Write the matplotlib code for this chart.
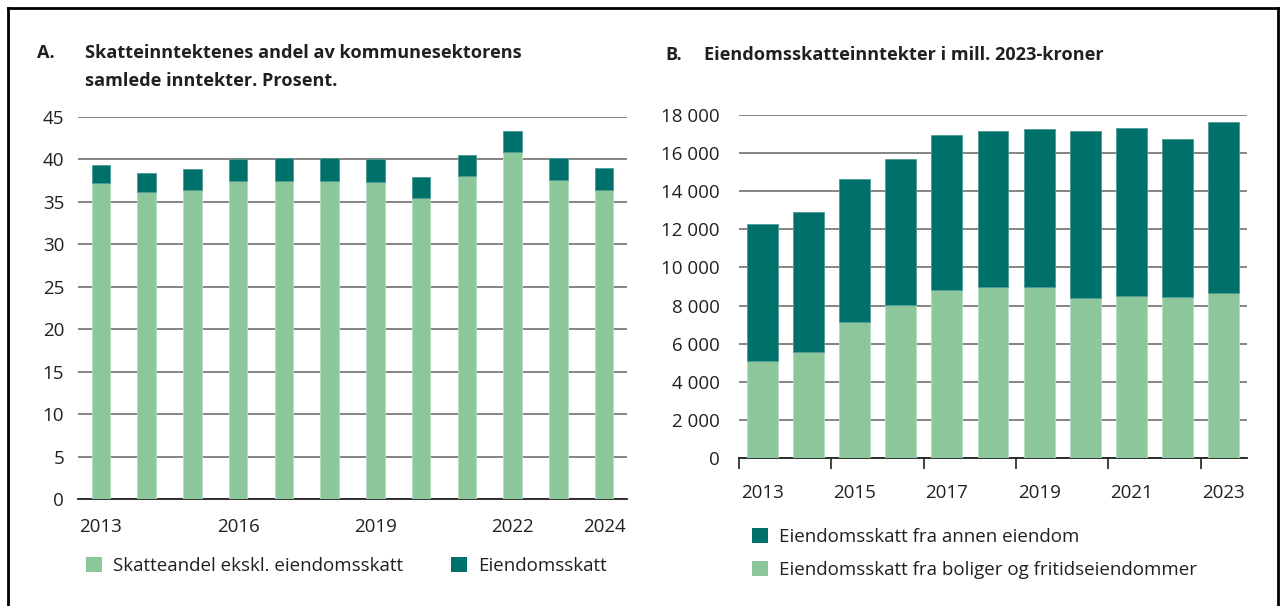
import matplotlib
matplotlib.use("Agg")
import matplotlib.pyplot as plt
from matplotlib.patches import Patch
from matplotlib.lines import Line2D

plt.rcParams['font.family'] = ['Open Sans', 'DejaVu Sans']

# ---- Data panel A ----
years_a = [2013, 2014, 2015, 2016, 2017, 2018, 2019, 2020, 2021, 2022, 2023, 2024]
skatteandel = [37.2, 36.2, 36.4, 37.5, 37.5, 37.5, 37.4, 35.4, 38.1, 40.9, 37.6, 36.4]
eiendomsskatt = [2.1, 2.2, 2.45, 2.6, 2.7, 2.7, 2.7, 2.55, 2.45, 2.5, 2.6, 2.6]
xlabels_a = ['2013', '', '', '2016', '', '', '2019', '', '', '2022', '', '2024']

# ---- Data panel B ----
years_b = [2013, 2014, 2015, 2016, 2017, 2018, 2019, 2020, 2021, 2022, 2023]
boliger = [5100, 5550, 7120, 8050, 8800, 9000, 9000, 8400, 8500, 8450, 8650]
annen = [7180, 7340, 7520, 7630, 8150, 8180, 8270, 8780, 8820, 8310, 8970]
xlabels_b = ['2013', '2015', '2017', '2019', '2021', '2023']

LIGHT = '#8BC79A'
DARK = '#00706A'
GRID = '#6f6f6f'
TXT = '#231f20'
FS = 13.5
TFS = 13.1

W, H = 1282, 606
fig = plt.figure(figsize=(W / 100, H / 100), dpi=100)

def px_axes(l, r, b, t):
    return fig.add_axes([l / W, (H - b) / H, (r - l) / W, (b - t) / H])

# border
for xs, ys in [([8, 8], [0, 598]), ([8, 1278], [598, 598]), ([1278, 1278], [0, 598])]:
    fig.add_artist(Line2D([x / W for x in xs], [y / H for y in ys], color='black', lw=2))

# ---- Panel A ----
ax1 = px_axes(78, 627, 499, 117)
xa = list(range(len(years_a)))
ax1.bar(xa, skatteandel, width=0.4, color=LIGHT, zorder=3, edgecolor='#b8ddc2', linewidth=0.6)
ax1.bar(xa, eiendomsskatt, width=0.4, bottom=skatteandel, color=DARK, zorder=3,
        edgecolor='#4f9a94', linewidth=0.6)
ax1.set_xlim(-0.5, len(years_a) - 0.5)
ax1.set_ylim(0, 45)
ax1.set_yticks(range(0, 46, 5))
ax1.yaxis.grid(True, color=GRID, lw=1.2, zorder=0)
ax1.set_axisbelow(True)
ax1.set_xticks(xa)
ax1.set_xticklabels(xlabels_a)
ax1.tick_params(axis='x', length=0, pad=14, labelsize=FS, labelcolor=TXT)
ax1.tick_params(axis='y', length=0, pad=10, labelsize=FS, labelcolor=TXT)
for s in ['top', 'right', 'left']:
    ax1.spines[s].set_visible(False)
ax1.spines['bottom'].set_color('#222222')
ax1.spines['bottom'].set_linewidth(1.3)

fig.text(37 / W, 1 - 58 / H, 'A.', fontsize=TFS, fontweight='bold', color=TXT, va='baseline')
fig.text(85 / W, 1 - 58 / H, 'Skatteinntektenes andel av kommunesektorens',
         fontsize=TFS, fontweight='bold', color=TXT, va='baseline')
fig.text(85 / W, 1 - 86 / H, 'samlede inntekter. Prosent.',
         fontsize=TFS, fontweight='bold', color=TXT, va='baseline')

h1 = [Patch(facecolor=LIGHT, edgecolor='none'), Patch(facecolor=DARK, edgecolor='none')]
fig.legend(h1, ['Skatteandel ekskl. eiendomsskatt', 'Eiendomsskatt'],
           loc='center left', bbox_to_anchor=(69 / W, 1 - 566 / H), ncol=2, frameon=False,
           fontsize=FS, handlelength=0.85, handleheight=0.85, handletextpad=0.6, columnspacing=2.55,
           labelcolor=TXT)

# ---- Panel B ----
ax2 = px_axes(739, 1247, 458, 115)
xb = list(range(len(years_b)))
ax2.bar(xb, boliger, width=0.67, color=LIGHT, zorder=3, edgecolor='#b8ddc2', linewidth=0.6)
ax2.bar(xb, annen, width=0.67, bottom=boliger, color=DARK, zorder=3,
        edgecolor='#4f9a94', linewidth=0.6)
ax2.set_xlim(-0.5, len(years_b) - 0.5)
ax2.set_ylim(0, 18000)
yt = list(range(0, 18001, 2000))
ax2.set_yticks(yt)
ax2.set_yticklabels([f'{v:,}'.replace(',', ' ') for v in yt])
ax2.yaxis.grid(True, color=GRID, lw=1.2, zorder=0)
ax2.set_axisbelow(True)
ax2.set_xticks([i - 0.5 for i in range(0, len(years_b), 2)])
ax2.set_xticklabels([])
ax2.set_xticks(list(range(0, len(years_b), 2)), minor=True)
ax2.set_xticklabels(xlabels_b, minor=True)
ax2.tick_params(axis='x', which='major', length=8, width=1.2, color='#222222')
ax2.tick_params(axis='x', which='minor', length=0, pad=19, labelsize=FS, labelcolor=TXT)
ax2.tick_params(axis='y', length=0, pad=14, labelsize=FS, labelcolor=TXT)
for s in ['top', 'right', 'left']:
    ax2.spines[s].set_visible(False)
ax2.spines['bottom'].set_color('#222222')
ax2.spines['bottom'].set_linewidth(1.3)

fig.text(665 / W, 1 - 60 / H, 'B.', fontsize=TFS, fontweight='bold', color=TXT, va='baseline')
fig.text(704 / W, 1 - 60 / H, 'Eiendomsskatteinntekter i mill. 2023-kroner',
         fontsize=TFS, fontweight='bold', color=TXT, va='baseline')

h2 = [Patch(facecolor=DARK, edgecolor='none'), Patch(facecolor=LIGHT, edgecolor='none')]
fig.legend(h2, ['Eiendomsskatt fra annen eiendom', 'Eiendomsskatt fra boliger og fritidseiendommer'],
           loc='upper left', bbox_to_anchor=(735 / W, 1 - 511 / H), ncol=1, frameon=False,
           fontsize=FS, handlelength=0.85, handleheight=0.85, handletextpad=0.6, labelspacing=0.82,
           labelcolor=TXT)

fig.savefig('out.png', dpi=100)
